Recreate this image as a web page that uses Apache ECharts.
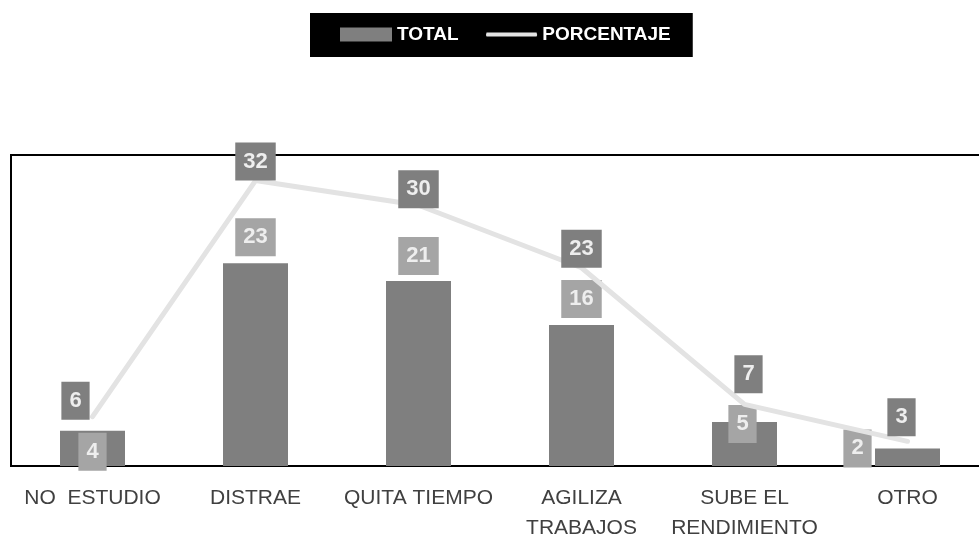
<!DOCTYPE html>
<html>
<head>
<meta charset="utf-8">
<script src="https://cdn.jsdelivr.net/npm/echarts@6/dist/echarts.min.js"></script>
<style>
    html, body { margin: 0; padding: 0; background: #fff; }
    #chart { width: 979px; height: 535px; }
</style>
</head>
<body>
<div id="chart"></div>
<script>
var categories = ['NO  ESTUDIO', 'DISTRAE', 'QUITA TIEMPO', 'AGILIZA\nTRABAJOS', 'SUBE EL\nRENDIMIENTO', 'OTRO'];
var totalValues = [4, 23, 21, 16, 5, 2];
var percentValues = [5.6, 32.4, 29.6, 22.5, 7.0, 2.8];

// labels were moved by hand in the original, so nudge each one
var totalLabelOffsets = [[0, 40], [0, -7], [0, -6], [0, -7], [-2, 21], [-50, 19]];
var percentLabelOffsets = [[-17, 3], [0, 0], [0, 3], [0, 0], [4, -11], [-6, -5]];

window.onload = function () {

    var labelBase = {
        show: true,
        position: 'top',
        distance: 0,
        color: '#eeeeee',
        fontFamily: 'Liberation Sans',
        fontWeight: 'bold',
        fontSize: 22,
        lineHeight: 22,
        padding: [8, 8, 8, 8]
    };

    var totalData = totalValues.map(function (v, i) {
        return { value: v, label: { offset: totalLabelOffsets[i] } };
    });
    var percentData = percentValues.map(function (v, i) {
        return { value: v, label: { offset: percentLabelOffsets[i] } };
    });

    var option = {
        animation: false,
        legend: {
            data: [
                { name: 'TOTAL', icon: 'rect' },
                // thin bar inside a 52x14 box, the tiny bits keep the box height
                { name: 'PORCENTAJE', icon: 'path://M0,0 L0.01,0 L0.01,0.01 Z M1,5 L51,5 Q52,7 51,9 L1,9 Q0,7 1,5 Z M0,14 L0.01,14 L0.01,13.99 Z' }
            ],
            left: 310,
            top: 13,
            backgroundColor: '#000000',
            padding: [12, 22, 13, 30],
            itemWidth: 52,
            itemHeight: 14,
            itemGap: 27,
            textStyle: {
                color: '#ffffff',
                fontFamily: 'Liberation Sans',
                fontWeight: 'bold',
                fontSize: 19
            }
        },
        grid: {
            left: 11,
            width: 978,
            top: 155,
            height: 311,
            show: true,
            borderColor: '#000000',
            borderWidth: 2,
            containLabel: false,
            outerBoundsMode: 'none'
        },
        xAxis: {
            type: 'category',
            data: categories,
            axisTick: { show: false },//去除刻度
            axisLine: { lineStyle: { color: '#000000', width: 2 } },
            axisLabel: {
                interval: 0,
                margin: 17,
                color: '#404040',
                fontFamily: 'Liberation Sans',
                fontSize: 21,
                lineHeight: 30
            }
        },
        yAxis: {
            type: 'value',
            min: 0,
            max: 35.3,
            show: false,
            splitLine: { show: false }
        },
        series: [
            {
                name: 'TOTAL',
                type: 'bar',
                barWidth: 65,
                itemStyle: { color: '#7f7f7f' },
                label: Object.assign({}, labelBase, { backgroundColor: '#a5a5a5' }),
                data: totalData
            },
            {
                name: 'PORCENTAJE',
                type: 'line',
                symbol: 'circle',
                symbolSize: 0,
                lineStyle: { color: '#e3e3e3', width: 5, cap: 'round', join: 'round' },
                itemStyle: { color: '#e3e3e3' },
                label: Object.assign({}, labelBase, {
                    backgroundColor: '#7f7f7f',
                    formatter: function (p) { return Math.round(p.value); }
                }),
                data: percentData
            }
        ]
    };

    var E1 = echarts.init(document.querySelector('#chart'));
    E1.setOption(option);
}
</script>
</body>
</html>
